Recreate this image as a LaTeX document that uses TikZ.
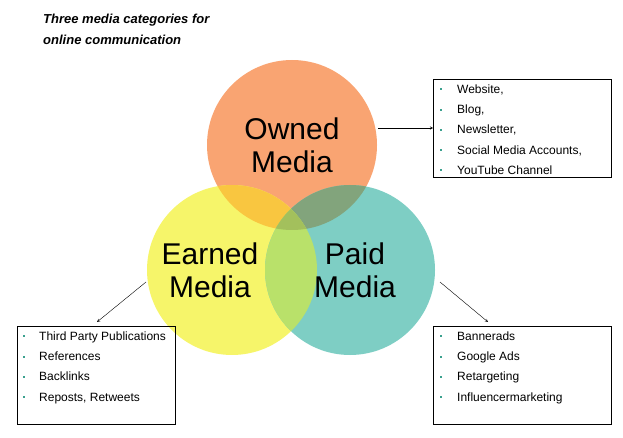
\documentclass[tikz,border=0pt]{standalone}
\usepackage{fontspec}
\setmainfont{Liberation Sans}
\usetikzlibrary{positioning}
\definecolor{ownedc}{HTML}{F9A472}
\definecolor{earnedc}{HTML}{F6F56A}
\definecolor{paidc}{HTML}{7ECEC4}
\definecolor{oec}{HTML}{F9C640}
\definecolor{opc}{HTML}{82A47C}
\definecolor{epc}{HTML}{B9E16A}
\definecolor{allc}{HTML}{A3C05C}
\definecolor{bulletc}{HTML}{3AA08E}
\tikzset{
  media/.style={font=\fontsize{30}{33}\selectfont, align=center},
  listbox/.style={draw, thick, anchor=north west, minimum width=178pt, minimum height=98pt},
  item/.style={anchor=base west, font=\fontsize{12}{14}\selectfont, inner sep=0pt},
  dot/.style={fill=bulletc, inner sep=0pt, minimum size=2pt},
}
\newcommand{\rad}{85}
\begin{document}
\begin{tikzpicture}[x=1pt,y=-1pt]
  \useasboundingbox (0,0) rectangle (623,438);
  % title
  \node[anchor=north west, align=left, font=\bfseries\itshape\fontsize{13}{21}\selectfont, inner sep=0pt] (title) at (43,14) {Three media categories for\\online communication};
  % circles
  \coordinate (oc) at (292,145);
  \coordinate (ec) at (232,270);
  \coordinate (pc) at (350,270);
  \fill[ownedc] (oc) circle (\rad);
  \fill[earnedc] (ec) circle (\rad);
  \fill[paidc] (pc) circle (\rad);
  \begin{scope}\clip (oc) circle (\rad); \fill[oec] (ec) circle (\rad); \fill[opc] (pc) circle (\rad);\end{scope}
  \begin{scope}\clip (ec) circle (\rad); \fill[epc] (pc) circle (\rad);
    \clip (pc) circle (\rad); \fill[allc] (oc) circle (\rad);\end{scope}
  \node[media] at (oc) (owned) {Owned\\Media};
  \node[media] at ([xshift=-22pt]ec) (earned) {Earned\\Media};
  \node[media] at ([xshift=5pt]pc) (paid) {Paid\\Media};
  % boxes
  \node[listbox] (ownedbox) at (433,79) {};
  \node[listbox, minimum width=158pt] (earnedbox) at (17,326) {};
  \node[listbox] (paidbox) at (433,326) {};
  % items
  \foreach \t [count=\i] in {{Website,},{Blog,},{Newsletter,},{Social Media Accounts,},{YouTube Channel}}{
    \node[dot] at (441,69+20.3*\i) {};
    \node[item] at (457,73+20.3*\i) {\t};
  }
  \foreach \t [count=\i] in {Third Party Publications,References,Backlinks,{Reposts, Retweets}}{
    \node[dot] at (24,316+20.3*\i) {};
    \node[item] at (39,320+20.3*\i) {\t};
  }
  \foreach \t [count=\i] in {Bannerads,Google Ads,Retargeting,Influencermarketing}{
    \node[dot] at (441,316+20.3*\i) {};
    \node[item] at (457,320+20.3*\i) {\t};
  }
  % arrows
  \coordinate (a1) at (378,128);
  \coordinate (a2) at (146,282);
  \coordinate (a3) at (440,282);
  \draw[-stealth] (a1) -- (ownedbox.west |- a1);
  \draw[-stealth] (a2) -- (97,322);
  \draw[-stealth] (a3) -- (488,322);
\end{tikzpicture}
\end{document}
